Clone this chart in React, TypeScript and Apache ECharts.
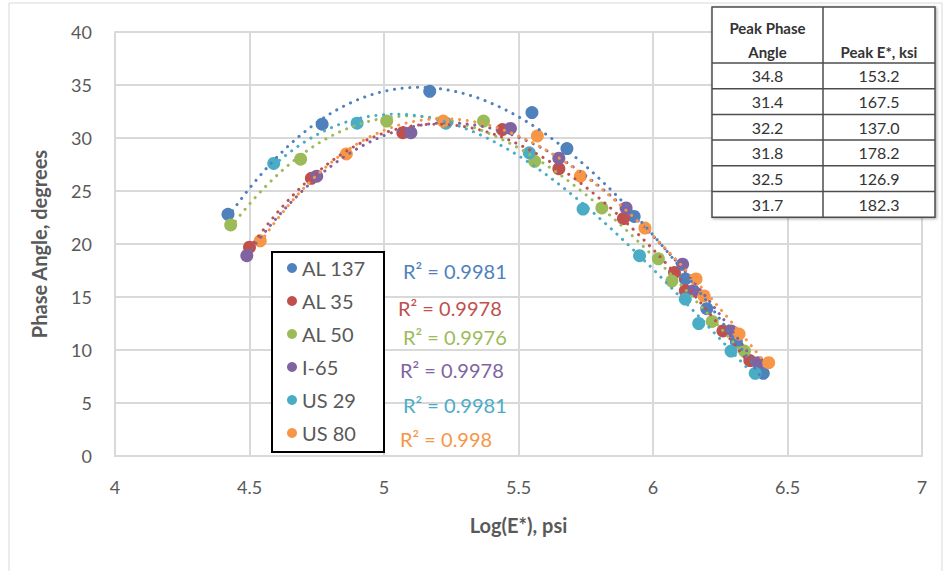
import React, { useEffect, useRef } from "react";
import * as echarts from "echarts";

// ---- data ----
const seriesNames = ["AL 137", "AL 35", "AL 50", "I-65", "US 29", "US 80"];
const seriesColors = ["#4F81BD", "#C0504D", "#9BBB59", "#8064A2", "#4BACC6", "#F79646"];

const al137 = [[4.42, 22.8], [4.77, 31.3], [5.17, 34.4], [5.55, 32.4], [5.68, 29.0], [5.93, 22.6], [6.12, 16.7], [6.20, 13.9], [6.31, 10.8], [6.41, 7.8]];
const al35 = [[4.50, 19.7], [4.73, 26.2], [5.07, 30.5], [5.44, 30.8], [5.65, 27.1], [5.89, 22.4], [6.08, 17.3], [6.12, 15.6], [6.26, 11.8], [6.36, 9.0]];
const al50 = [[4.43, 21.8], [4.69, 28.0], [5.01, 31.6], [5.37, 31.6], [5.56, 27.8], [5.81, 23.4], [6.02, 18.6], [6.07, 16.5], [6.22, 12.7], [6.34, 9.9]];
const i65 = [[4.49, 18.9], [4.75, 26.4], [5.10, 30.5], [5.47, 30.9], [5.65, 28.1], [5.90, 23.4], [6.11, 18.1], [6.15, 15.6], [6.29, 11.8], [6.39, 8.8]];
const us29 = [[4.59, 27.6], [4.90, 31.4], [5.23, 31.4], [5.54, 28.6], [5.74, 23.3], [5.95, 18.9], [6.12, 14.8], [6.17, 12.5], [6.29, 9.9], [6.38, 7.8]];
const us80 = [[4.54, 20.3], [4.86, 28.5], [5.22, 31.6], [5.57, 30.2], [5.73, 26.4], [5.97, 21.5], [6.16, 16.7], [6.19, 15.1], [6.32, 11.5], [6.43, 8.8]];
const allSeries = [al137, al35, al50, i65, us29, us80];

const rSquared = ["0.9981", "0.9978", "0.9976", "0.9978", "0.9981", "0.998"];

const tableHeader = ["Peak Phase\nAngle", "Peak E*, ksi"];
const peakPhase = ["34.8", "31.4", "32.2", "31.8", "32.5", "31.7"];
const peakE = ["153.2", "167.5", "137.0", "178.2", "126.9", "182.3"];

const xMin = 4, xMax = 7, xStep = 0.5;
const yMin = 0, yMax = 40, yStep = 5;

// ---- polynomial (order 3) trendline, as in the spreadsheet ----
function cubicFit(pts: number[][]) {
  const n = pts.length;
  const mx = pts.reduce((s, p) => s + p[0], 0) / n;
  const A = [0, 1, 2, 3].map(() => [0, 0, 0, 0, 0]);
  pts.forEach(([x, y]) => {
    const u = x - mx;
    const pw = [1, u, u * u, u * u * u];
    for (let i = 0; i < 4; i++) {
      for (let j = 0; j < 4; j++) A[i][j] += pw[i] * pw[j];
      A[i][4] += pw[i] * y;
    }
  });
  for (let c = 0; c < 4; c++) {
    let piv = c;
    for (let r = c + 1; r < 4; r++) if (Math.abs(A[r][c]) > Math.abs(A[piv][c])) piv = r;
    [A[c], A[piv]] = [A[piv], A[c]];
    for (let r = 0; r < 4; r++) {
      if (r === c) continue;
      const f = A[r][c] / A[c][c];
      for (let k = c; k < 5; k++) A[r][k] -= f * A[c][k];
    }
  }
  const coef = [0, 1, 2, 3].map((i) => A[i][4] / A[i][i]);
  return (x: number) => {
    const u = x - mx;
    return coef[0] + coef[1] * u + coef[2] * u * u + coef[3] * u * u * u;
  };
}

function trendline(pts: number[][]) {
  const f = cubicFit(pts);
  const x0 = Math.min(...pts.map((p) => p[0]));
  const x1 = Math.max(...pts.map((p) => p[0]));
  const out: number[][] = [];
  const steps = 120;
  for (let i = 0; i <= steps; i++) {
    const x = x0 + ((x1 - x0) * i) / steps;
    out.push([x, f(x)]);
  }
  return out;
}

const FONT = "Lato, 'Noto Sans', sans-serif";
const GREY = "#595959";

export default function App() {
  const ref = useRef<HTMLDivElement>(null);

  useEffect(() => {
    if (!ref.current) return;
    const chart = echarts.init(ref.current, null, { renderer: "svg" });

    const scatterSeries = allSeries.map((pts, i) => ({
      name: seriesNames[i],
      type: "scatter",
      data: pts,
      symbol: "circle",
      symbolSize: 13,
      itemStyle: { color: seriesColors[i], opacity: 1 },
      z: 2,
    }));
    const trendSeries = allSeries.map((pts, i) => ({
      name: seriesNames[i] + " trend",
      type: "line",
      data: trendline(pts),
      showSymbol: false,
      symbol: "none",
      silent: true,
      lineStyle: { color: seriesColors[i], width: 3, type: [0.1, 7.6], cap: "round" },
      z: 3,
    }));

    const graphics: any[] = [];
    graphics.push({
      type: "rect",
      shape: { x: 9, y: 3, width: 933, height: 575 },
      style: { fill: "none", stroke: "#D9D9D9", lineWidth: 1 },
      z: 0,
      silent: true,
    });
    graphics.push({
      type: "rect",
      shape: { x: 272, y: 252, width: 112, height: 200 },
      style: { fill: "#ffffff", stroke: "#000000", lineWidth: 2 },
      z: 1,
      silent: true,
    });
    const rY = [271, 308, 337, 370, 405, 439];
    const rX = [403, 398, 403, 400, 403, 400];
    rSquared.forEach((r, i) => {
      graphics.push({
        type: "text",
        x: rX[i],
        y: rY[i],
        style: {
          text: "R² = " + r,
          fill: seriesColors[i],
          font: `20px ${FONT}`,
          textAlign: "left",
          textVerticalAlign: "middle",
        },
        z: 5,
      });
    });

    // table
    const tL = 712, tM = 823, tR = 935, tT = 7, tH = 63, rowH = 25.7;
    const tB = tH + rowH * peakPhase.length;
    graphics.push({
      type: "rect",
      z: 20,
      shape: { x: tL, y: tT, width: tR - tL, height: tB - tT },
      style: { fill: "#ffffff", stroke: "#4d4d4d", lineWidth: 1.5, shadowBlur: 3, shadowColor: "rgba(0,0,0,0.35)", shadowOffsetX: 1, shadowOffsetY: 1 },
    });
    graphics.push({ type: "line", z: 21, shape: { x1: tM, y1: tT, x2: tM, y2: tB }, style: { stroke: "#4d4d4d", lineWidth: 1.5 } });
    for (let k = 0; k < peakPhase.length; k++) {
      const y = tH + rowH * k;
      graphics.push({ type: "line", z: 21, shape: { x1: tL, y1: y, x2: tR, y2: y }, style: { stroke: "#4d4d4d", lineWidth: 1.5 } });
    }
    const hdr = tableHeader[0].split("\n");
    const hdrStyle = (text: string) => ({ text, fill: "#333333", font: `bold 15px ${FONT}`, textAlign: "center", textVerticalAlign: "middle" });
    graphics.push({ type: "text", z: 22, x: (tL + tM) / 2, y: 28, style: hdrStyle(hdr[0]) });
    graphics.push({ type: "text", z: 22, x: (tL + tM) / 2, y: 52, style: hdrStyle(hdr[1]) });
    graphics.push({ type: "text", z: 22, x: (tM + tR) / 2, y: 52, style: hdrStyle(tableHeader[1]) });
    peakPhase.forEach((v, k) => {
      const cy = tH + rowH * k + rowH / 2;
      graphics.push({ type: "text", z: 22, x: (tL + tM) / 2, y: cy, style: { text: v, fill: "#333333", font: `16px ${FONT}`, textAlign: "center", textVerticalAlign: "middle" } });
      graphics.push({ type: "text", z: 22, x: (tM + tR) / 2, y: cy, style: { text: peakE[k], fill: "#333333", font: `16px ${FONT}`, textAlign: "center", textVerticalAlign: "middle" } });
    });

    chart.setOption({
      animation: false,
      backgroundColor: "#ffffff",
      textStyle: { fontFamily: FONT },
      grid: { left: 115, right: 24, top: 32, bottom: 115, containLabel: false },
      legend: {
        data: seriesNames,
        orient: "vertical",
        left: 287,
        top: 258,
        padding: 0,
        itemGap: 13,
        itemWidth: 10,
        itemHeight: 10,
        icon: "circle",
        textStyle: { fontSize: 20, color: GREY, fontFamily: FONT },
        z: 4,
      },
      xAxis: {
        type: "value",
        min: xMin,
        max: xMax,
        interval: xStep,
        name: "Log(E*), psi",
        nameLocation: "middle",
        nameGap: 59,
        nameTextStyle: { fontSize: 20, fontWeight: "bold", color: GREY, fontFamily: FONT },
        axisLine: { show: true, lineStyle: { color: "#D9D9D9", width: 2 } },
        axisTick: { show: false },
        axisLabel: { fontSize: 18, color: GREY, margin: 22, fontFamily: FONT },
        splitLine: { show: true, lineStyle: { color: "#D9D9D9", width: 2 } },
      },
      yAxis: {
        type: "value",
        min: yMin,
        max: yMax,
        interval: yStep,
        name: "Phase Angle, degrees",
        nameLocation: "middle",
        nameGap: 66,
        nameRotate: 90,
        nameTextStyle: { fontSize: 20, fontWeight: "bold", color: GREY, fontFamily: FONT },
        axisLine: { show: true, lineStyle: { color: "#D9D9D9", width: 2 } },
        axisTick: { show: false },
        axisLabel: { fontSize: 18, color: GREY, margin: 23, fontFamily: FONT },
        splitLine: { show: true, lineStyle: { color: "#D9D9D9", width: 2 } },
      },
      graphic: graphics,
      series: [...scatterSeries, ...trendSeries],
    });

    return () => chart.dispose();
  }, []);

  return (
    <div
      ref={ref}
      style={{ position: "fixed", left: 0, top: 0, width: 946, height: 571, background: "#fff" }}
    />
  );
}
